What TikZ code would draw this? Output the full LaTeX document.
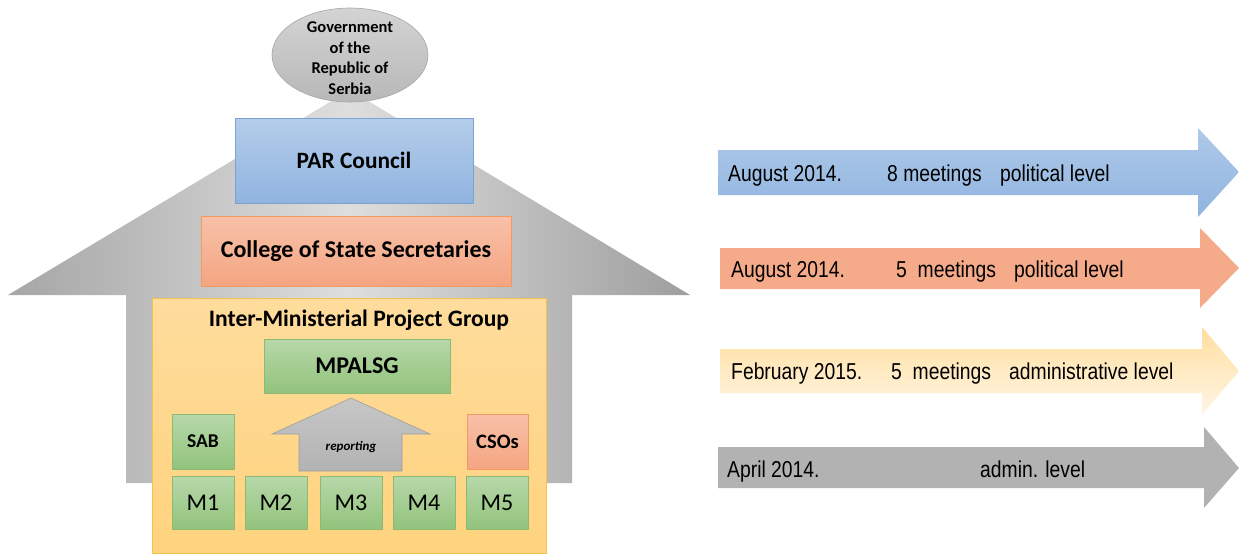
\documentclass[tikz,border=0pt]{standalone}
\usepackage{fontspec}
\usetikzlibrary{shapes.geometric}
\setmainfont{Carlito}
\newfontfamily\arialfont{Liberation Sans}
\newcommand{\narrowtxt}[1]{\scalebox{0.84}[1]{#1}}
\definecolor{blueT}{HTML}{B4CDEA}
\definecolor{blueB}{HTML}{90B4E0}
\definecolor{blueD}{HTML}{7EA2CF}
\definecolor{salT}{HTML}{F8C1A8}
\definecolor{salB}{HTML}{F4A582}
\definecolor{salD}{HTML}{F29A62}
\definecolor{orT}{HTML}{FEDC9C}
\definecolor{orB}{HTML}{FFD37E}
\definecolor{orD}{HTML}{F3C14C}
\definecolor{grT}{HTML}{B7D8A9}
\definecolor{grB}{HTML}{92C37C}
\definecolor{grD}{HTML}{8CBA73}
\begin{document}
\begin{tikzpicture}[x=1pt,y=-1pt,
  lbl/.style={font=\bfseries\fontsize{24}{28}\selectfont, text=black},
  parbox/.style={draw=blueD, top color=blueT, bottom color=blueB, line width=0.8pt, minimum width=238pt, minimum height=85pt, font=\bfseries\fontsize{23.4}{28}\selectfont},
  colbox/.style={draw=salD, top color=salT, bottom color=salB, line width=0.8pt, minimum width=310pt, minimum height=70pt, lbl},
  grbox/.style={draw=grD, top color=grT, bottom color=grB, line width=0.6pt},
  mbox/.style={grbox, minimum width=62pt, minimum height=53pt, font=\fontsize{24}{28}\selectfont},
  arrtxt/.style={anchor=base west, inner sep=0pt, font=\arialfont\fontsize{23}{27}\selectfont, text=black}
]
\useasboundingbox (0,0) rectangle (1239,555);
% house shape
\path[left color=black!35, right color=black!38, middle color=black!13]
  (350,90) -- (690,295) -- (572,295) -- (572,483) -- (126,483) -- (126,295) -- (8,295) -- cycle;
% government ellipse
\node[ellipse, draw=black!35, top color=black!17, bottom color=black!28, line width=0.6pt,
  minimum width=156pt, minimum height=94pt, inner sep=0pt] (gov) at (350,55) {};
\node[align=center, inner sep=0pt, font=\bfseries\fontsize{16.5}{20.5}\selectfont] (govt) at (350,58)
  {Government\\of the\\Republic of\\Serbia};
% PAR council and college
\node[parbox] (par) at (354,160.5) {PAR Council};
\node[colbox] (col) at (356,251) {College of State Secretaries};
% IMPG
\path[draw=orD, top color=orT, bottom color=orB, line width=0.8pt] (152,298) rectangle (546,553);
\node[font=\bfseries\fontsize{23.6}{27}\selectfont] (impg) at (359,320) {Inter-Ministerial Project Group};
\node[grbox, minimum width=186pt, minimum height=54pt, lbl] (mpalsg) at (357,366) {MPALSG};
\node[grbox, minimum width=62pt, minimum height=55pt, font=\bfseries\fontsize{19.5}{22}\selectfont] (sab) at (203,441.5) {SAB};
\node[draw=salD, top color=salT, bottom color=salB, line width=0.6pt, minimum width=61pt, minimum height=55pt, font=\bfseries\fontsize{20.5}{22}\selectfont] (csos) at (497.5,441.5) {CSOs};
% reporting arrow
\path[draw=black!38, top color=black!22, bottom color=black!30, line width=0.6pt]
  (351,398) -- (430,434) -- (402,434) -- (402,471) -- (299,471) -- (299,434) -- (272,434) -- cycle;
\node[font=\bfseries\itshape\fontsize{13}{16}\selectfont] (rep) at (351,447) {reporting};
% ministries
\node[mbox] (m1) at (203,502.5) {M1};
\node[mbox] (m2) at (276,502.5) {M2};
\node[mbox] (m3) at (351,502.5) {M3};
\node[mbox] (m4) at (424,502.5) {M4};
\node[mbox] (m5) at (497,502.5) {M5};
% right arrows
\path[top color=blueT!85!blueB, bottom color=blueB]
  (718,150) -- (1198,150) -- (1198,128) -- (1239,172) -- (1198,217) -- (1198,195) -- (718,195) -- cycle;
\node[arrtxt] (a1d) at (728,181) {\narrowtxt{August 2014.}};
\node[arrtxt] (a1m) at (887,181) {\narrowtxt{8 meetings}};
\node[arrtxt] (a1l) at (1000,181) {\narrowtxt{political level}};
\path[fill=salB!80!salT]
  (720,248) -- (1200,248) -- (1200,228) -- (1239,268) -- (1200,308) -- (1200,289) -- (720,289) -- cycle;
\node[arrtxt] (a2d) at (731,277.5) {\narrowtxt{August 2014.}};
\node[arrtxt] (a2m) at (896,277.5) {\narrowtxt{5\ \ meetings}};
\node[arrtxt] (a2l) at (1014,277.5) {\narrowtxt{political level}};
\path[top color=orB!75!white, bottom color=orT!25!white]
  (720,349) -- (1202,349) -- (1202,327) -- (1239,371) -- (1202,415) -- (1202,393) -- (720,393) -- cycle;
\node[arrtxt] (a3d) at (731,379.5) {\narrowtxt{February 2015.}};
\node[arrtxt] (a3m) at (891,379.5) {\narrowtxt{5\ \ meetings}};
\node[arrtxt] (a3l) at (1009,379.5) {\narrowtxt{administrative level}};
\path[fill=black!30]
  (718,447) -- (1204,447) -- (1204,427) -- (1239,468) -- (1204,508) -- (1204,488) -- (718,488) -- cycle;
\node[arrtxt] (a4d) at (727,477) {\narrowtxt{April 2014.}};
\node[arrtxt] (a4l) at (980,477) {\narrowtxt{admin. level}};
\end{tikzpicture}
\end{document}
